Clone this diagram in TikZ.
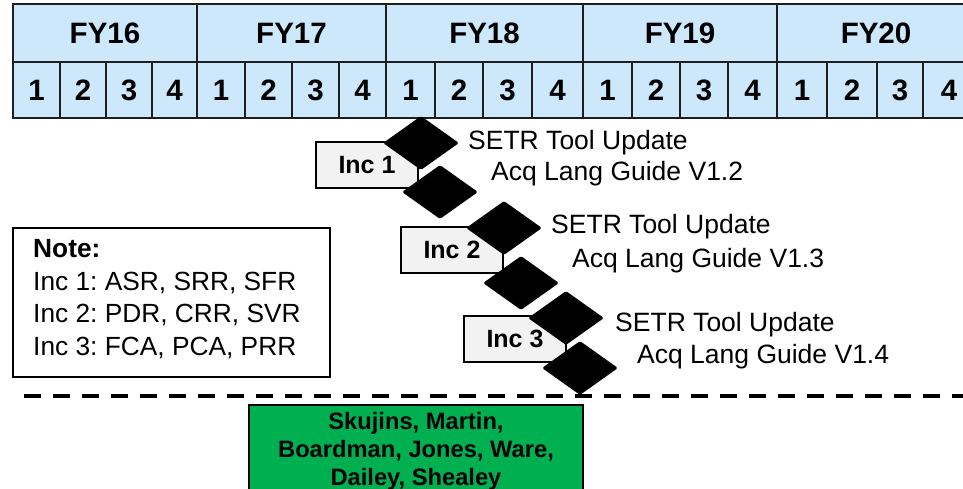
\documentclass[tikz,border=0pt]{standalone}
\usepackage{fontspec}
\setmainfont{Liberation Sans}
\usetikzlibrary{shapes.geometric}
\definecolor{hdrblue}{RGB}{204,232,250}
\definecolor{incgray}{RGB}{242,242,242}
\definecolor{teamgreen}{RGB}{0,176,80}
\definecolor{gridline}{RGB}{30,30,30}
\frenchspacing
\begin{document}
\begin{tikzpicture}[x=1pt,y=-1pt,
  hcell/.style={draw=gridline, line width=2pt, fill=hdrblue, inner sep=0pt,
    font=\fontsize{29.5}{34}\selectfont\bfseries},
  incbox/.style={draw=black, line width=2pt, fill=incgray, inner sep=0pt,
    minimum width=102pt, minimum height=46pt, font=\fontsize{25}{30}\selectfont\bfseries},
  milestone/.style={diamond, fill=black, inner sep=0pt, minimum width=76pt,
    minimum height=54pt, rounded corners=1.5pt},
  lbl/.style={anchor=west, inner sep=0pt, font=\fontsize{26.5}{31}\selectfont}]
\useasboundingbox (0,0) rectangle (963,489);
% fiscal years
\foreach \l/\r/\t [count=\i] in {13/197/FY16,197/386/FY17,386/583/FY18,583/777/FY19,777/975/FY20}
  \node[hcell, minimum width={(\r-\l)*1pt}, minimum height=58pt] (fy\i) at ({(\l+\r)/2},33) {\t};
% quarters
\foreach \l/\r/\t [count=\i] in {13/60/1,60/106/2,106/152/3,152/197/4,
  197/245/1,245/292/2,292/339/3,339/386/4,
  386/435/1,435/483/2,483/532/3,532/583/4,
  583/632/1,632/680/2,680/728/3,728/777/4,
  777/827/1,827/877/2,877/923/3,923/975/4}
  \node[hcell, minimum width={(\r-\l)*1pt}, minimum height=56pt] (q\i) at ({(\l+\r)/2},90) {\t};
% increments
\node[incbox] (inc1) at (367,165) {Inc 1};
\node[incbox] (inc2) at (452,250) {Inc 2};
\node[incbox] (inc3) at (515,339) {Inc 3};
% milestones
\node[milestone] (m1a) at (421,143) {};
\node[milestone] (m1b) at (440,192) {};
\node[milestone] (m2a) at (504,228) {};
\node[milestone] (m2b) at (521,283) {};
\node[milestone] (m3a) at (566,318) {};
\node[milestone] (m3b) at (580,368) {};
% labels
\node[lbl] (s1) at (468,143) {SETR Tool Update};
\node[lbl] (g1) at (491,174) {Acq Lang Guide V1.2};
\node[lbl] (s2) at (551,227) {SETR Tool Update};
\node[lbl] (g2) at (572,261) {Acq Lang Guide V1.3};
\node[lbl] (s3) at (615,325) {SETR Tool Update};
\node[lbl] (g3) at (637,357) {Acq Lang Guide V1.4};
% note
\node[draw=black, line width=1.5pt, minimum width=317pt, minimum height=149pt, inner sep=0pt] (notebox) at (171.5,302.5) {};
\node[anchor=west, inner sep=0pt, align=left, font=\fontsize{26.3}{32.5}\selectfont] (notetxt) at (33,299)
  {\textbf{Note:}\\Inc 1: ASR, SRR, SFR\\Inc 2: PDR, CRR, SVR\\Inc 3: FCA, PCA, PRR};
% dashed separator
\coordinate (dl) at (24,396);
\coordinate (dr) at (963,396);
\draw[line width=4pt, dash pattern=on 17pt off 12pt] (dl) -- (dr);
% team
\node[draw=black, line width=2pt, fill=teamgreen, minimum width=334pt, minimum height=95pt, inner sep=0pt] (team) at (416,452.5) {};
\node[inner sep=0pt, align=center, font=\fontsize{23.7}{28}\selectfont\bfseries] (teamtxt) at (416,451)
  {Skujins, Martin,\\Boardman, Jones, Ware,\\Dailey, Shealey};
\end{tikzpicture}
\end{document}
